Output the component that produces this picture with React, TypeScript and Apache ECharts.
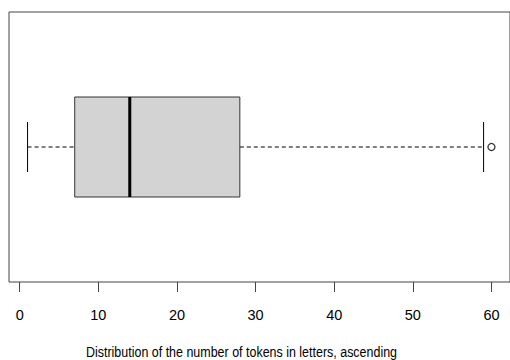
import React, { useEffect, useRef } from "react";
import * as echarts from "echarts";

// five-number summary: lower whisker, Q1, median, Q3, upper whisker
const boxStats = [1, 7, 14, 28, 59];
const outliers = [60];
const tickValues = [0, 10, 20, 30, 40, 50, 60];
const xRange = [-1.36, 62.36];
const xTitle = "Distribution of the number of tokens in letters, ascending";

const FONT = "'Liberation Sans', Arial, Helvetica, sans-serif";

export default function App() {
  const ref = useRef<HTMLDivElement>(null);
  useEffect(() => {
    if (!ref.current) return;
    const chart = echarts.init(ref.current, undefined, { renderer: "svg" });
    const yCenter = 1;
    chart.setOption({
      animation: false,
      backgroundColor: "#ffffff",
      grid: {
        left: 9,
        top: 12,
        width: 502.4,
        height: 270,
        show: true,
        borderColor: "#444",
        borderWidth: 1,
        backgroundColor: "transparent",
      },
      xAxis: {
        type: "value",
        min: xRange[0],
        max: xRange[1],
        axisLine: { show: false },
        splitLine: { show: false },
        axisTick: {
          show: true,
          length: 10,
          customValues: tickValues,
          lineStyle: { color: "#444", width: 1 },
        },
        axisLabel: {
          customValues: tickValues,
          fontSize: 14.5,
          fontFamily: FONT,
          color: "#000",
          margin: 25,
        },
      },
      yAxis: { type: "value", min: 0, max: 2, show: false },
      graphic: [
        {
          type: "text",
          x: 241.5,
          y: 352.5,
          scaleX: 0.86,
          style: {
            text: xTitle,
            fontSize: 14.5,
            fontFamily: FONT,
            fill: "#000",
            textAlign: "center",
            textVerticalAlign: "middle",
          },
        },
      ],
      series: [
        {
          type: "custom",
          data: [[...boxStats, yCenter]],
          encode: { x: [0, 1, 2, 3, 4], y: 5 },
          renderItem: (params: any, api: any) => {
            const yv = api.value(5);
            const px = (i: number) => api.coord([api.value(i), yv]);
            const pMin = px(0), pQ1 = px(1), pMed = px(2), pQ3 = px(3), pMax = px(4);
            const cy = pMed[1];
            const half = 50;
            const cap = 25;
            const dash = { stroke: "#000", lineWidth: 1, lineDash: [4, 3] };
            const solid = { stroke: "#000", lineWidth: 1 };
            return {
              type: "group",
              children: [
                { type: "line", shape: { x1: pMin[0], y1: cy, x2: pQ1[0], y2: cy }, style: dash },
                { type: "line", shape: { x1: pQ3[0], y1: cy, x2: pMax[0], y2: cy }, style: dash },
                { type: "line", shape: { x1: pMin[0], y1: cy - cap, x2: pMin[0], y2: cy + cap }, style: solid },
                { type: "line", shape: { x1: pMax[0], y1: cy - cap, x2: pMax[0], y2: cy + cap }, style: solid },
                {
                  type: "rect",
                  shape: { x: pQ1[0], y: cy - half, width: pQ3[0] - pQ1[0], height: 2 * half },
                  style: { fill: "#d3d3d3", stroke: "#333", lineWidth: 1 },
                },
                { type: "line", shape: { x1: pMed[0], y1: cy - half, x2: pMed[0], y2: cy + half }, style: { stroke: "#000", lineWidth: 3 } },
              ],
            };
          },
        },
        {
          type: "scatter",
          data: outliers.map((v) => [v, yCenter]),
          symbol: "circle",
          symbolSize: 7,
          itemStyle: { color: "#fff", borderColor: "#000", borderWidth: 1.3 },
        },
      ],
    });
    return () => chart.dispose();
  }, []);
  return (
    <div
      ref={ref}
      style={{ position: "fixed", left: 0, top: 0, width: 510, height: 360 }}
    />
  );
}
